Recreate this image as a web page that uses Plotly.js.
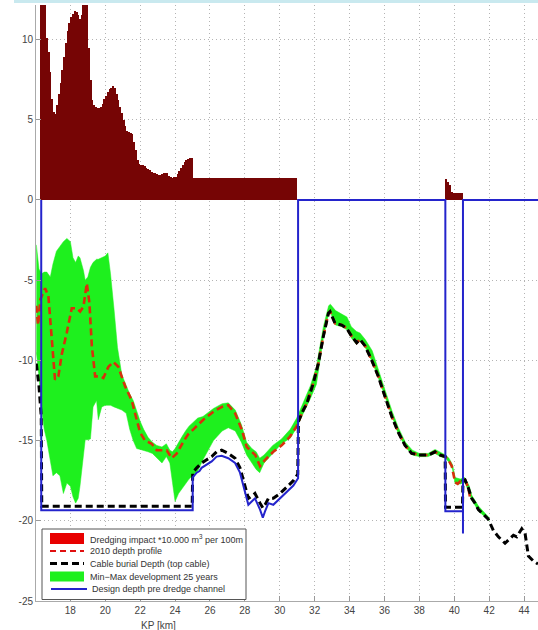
<!DOCTYPE html>
<html><head><meta charset="utf-8">
<script src="https://cdn.plot.ly/plotly-3.0.1.min.js"></script>
<style>html,body{margin:0;padding:0;background:#fff;}#chart{width:538px;height:630px;}</style>
</head><body><div id="chart"></div>
<script>
// ---------- data ----------
// Dredging impact bars, 100 m wide, first bar centre and step in km
const dredgeStartKm = 16.35;
const dredgeStepKm = 0.1;
const dredgeMain = [13,13,13,10.1,9.2,8.0,6.3,5.5,5.35,5.9,
 6.6,7.3,8.1,8.9,9.8,10.5,11.0,11.4,11.6,11.8,
 11.7,11.5,11.3,11.5,13,13,13,9.5,7.5,6.2,
 5.9,5.8,5.7,5.7,5.8,6.0,6.3,6.5,6.7,6.9,
 7.0,7.1,7.0,6.6,6.2,5.8,5.4,5.0,4.6,4.3,
 4.25,4.2,4.1,3.6,3.1,2.5,2.25,2.2,2.2,2.1,
 2.0,1.95,1.85,1.75,1.7,1.65,1.6,1.55,1.55,1.6,
 1.65,1.7,1.65,1.5,1.4,1.35,1.4,1.45,1.6,1.8,
 2.0,2.2,2.35,2.5,2.55,2.6,2.6,
 1.35,1.35,1.35,1.35,1.35,1.35,1.35,1.35,1.35,1.35,
 1.35,1.35,1.35,1.35,1.35,1.35,1.35,1.35,1.35,1.35,
 1.35,1.35,1.35,1.35,1.35,1.35,1.35,1.35,1.35,1.35,
 1.35,1.35,1.35,1.35,1.35,1.35,1.35,1.35,1.35,1.35,
 1.35,1.35,1.35,1.35,1.35,1.35,1.35,1.35,1.35,1.35,
 1.35,1.35,1.35,1.35,1.35,1.35,1.35,1.35,1.35,1.35];
const dredgeEastStartKm = 39.55;
const dredgeEast = [1.3,1.1,0.9,0.5,0.45,0.45,0.45,0.45,0.45,0.45];

// Min-Max development 25 years (band)
const bandKm = [16.05,16.20,16.35,16.50,16.65,16.85,17.00,17.20,17.40,17.60,17.80,18.00,18.15,18.30,18.45,18.55,18.75,18.85,19.00,19.15,19.30,19.50,19.60,19.80,20.00,20.15,20.30,20.50,20.70,20.95,21.20,21.40,21.60,21.80,22.00,22.20,22.45,22.70,22.95,23.25,23.50,23.70,23.85,24.00,24.20,24.40,24.60,24.80,25.00,25.30,25.60,26.20,26.70,27.05,27.45,27.80,28.10,28.40,28.65,28.85,29.10,29.60,30.10,30.60,30.97,31.35,31.75,32.10,32.50,32.80,32.90,33.20,33.55,33.85,34.10,34.40,34.60,34.90,35.30,35.65,36.05,36.45,36.80,37.20,37.60,38.00,38.50,38.90,39.20,39.50,39.70,39.90,40.05,40.35,40.60,40.85,41.00,41.40,41.70,42.00];
const bandMax = [-2.8,-4.3,-4.6,-4.5,-4.5,-4.8,-4.0,-3.2,-2.9,-2.6,-2.4,-2.6,-3.6,-3.9,-3.5,-3.6,-4.4,-5.0,-4.8,-4.2,-3.9,-3.7,-3.7,-3.6,-3.5,-3.3,-4.6,-6.8,-9.2,-10.9,-11.6,-12.1,-12.5,-13.2,-13.8,-14.3,-14.8,-15.1,-15.3,-15.4,-15.2,-15.6,-15.7,-15.5,-15.1,-14.75,-14.4,-14.1,-13.9,-13.6,-13.5,-13.0,-12.7,-12.65,-13.1,-14.0,-15.1,-15.5,-15.7,-16.1,-15.9,-15.3,-14.9,-14.3,-13.6,-12.6,-11.6,-10.4,-7.9,-6.6,-6.5,-6.9,-7.1,-7.3,-7.9,-8.2,-8.3,-8.7,-9.4,-10.5,-11.9,-13.2,-14.2,-15.1,-15.6,-15.8,-15.8,-15.55,-15.75,-15.9,-16.1,-16.5,-17.3,-17.4,-17.3,-17.8,-18.4,-19.1,-19.45,-19.8];
const bandMin = [-9.5,-11.0,-13.0,-14.3,-15.0,-16.2,-17.2,-17.0,-17.2,-18.3,-17.65,-17.85,-18.5,-18.9,-18.6,-17.85,-16.0,-14.95,-14.95,-14.9,-12.9,-12.5,-13.7,-12.9,-12.8,-12.8,-12.8,-12.9,-13.0,-13.1,-13.3,-14.3,-15.0,-15.5,-15.55,-15.6,-15.7,-15.8,-16.1,-16.4,-16.0,-16.4,-17.6,-18.8,-18.3,-18.0,-17.7,-17.4,-17.2,-16.9,-16.2,-15.0,-14.4,-14.2,-14.4,-15.1,-15.9,-16.4,-16.8,-17.0,-16.4,-15.8,-15.2,-14.85,-14.2,-13.3,-12.4,-11.5,-8.6,-7.1,-7.0,-7.8,-7.9,-8.1,-8.6,-9.0,-8.8,-9.2,-10.1,-11.1,-12.35,-13.6,-14.6,-15.4,-15.9,-16.0,-16.0,-15.8,-16.0,-16.1,-16.35,-16.8,-17.7,-17.7,-17.6,-18.2,-18.7,-19.4,-19.7,-20.0];

// 2010 depth profile
const profileKm = [16.05,16.15,16.28,16.55,16.74,16.93,17.12,17.31,17.51,17.79,18.08,18.37,18.56,18.75,18.94,19.09,19.23,19.42,19.70,19.89,20.18,20.46,20.75,21.13,21.52,21.80,22.00,22.28,22.66,22.95,23.24,23.52,23.81,24.10,24.48,24.76,25.05,25.62,26.20,26.68,27.05,27.44,27.82,28.11,28.40,28.60,28.87,29.16,29.63,30.11,30.59,30.97,31.35,31.55,31.93,32.21,32.50,32.79,32.88,33.17,33.55,33.84,34.12,34.41,34.60,34.89,35.27,35.65,36.03,36.42,36.80,37.18,37.56,38.04,38.52,38.90,39.19,39.48,39.66,39.86,40.05,40.20,40.33,40.62,40.81,40.90];
const profileDepth = [-6.6,-7.8,-6.2,-5.5,-6.0,-8.5,-11.2,-11.0,-9.6,-8.3,-6.75,-6.75,-6.95,-6.65,-5.2,-6.4,-9.1,-11.0,-11.0,-11.1,-10.4,-10.1,-10.4,-11.6,-12.5,-13.7,-14.5,-15.0,-15.2,-15.6,-15.6,-15.6,-16.1,-15.8,-15.06,-14.6,-14.3,-13.7,-13.2,-12.9,-12.8,-13.3,-14.3,-15.4,-15.7,-15.9,-16.6,-16.2,-15.7,-15.3,-14.75,-14.1,-13.1,-12.7,-11.4,-10.2,-8.5,-7.06,-6.96,-7.7,-7.8,-8.0,-8.5,-8.9,-8.7,-9.1,-10.0,-11.0,-12.25,-13.5,-14.5,-15.3,-15.8,-15.9,-15.9,-15.7,-15.9,-16.0,-16.2,-16.6,-17.6,-17.7,-17.55,-17.45,-17.96,-18.5];

// Cable burial depth (top cable)
const cableKm = [16.05,16.20,16.33,16.36,24.98,25.01,25.24,25.52,25.81,26.10,26.38,26.67,27.05,27.44,27.72,28.01,28.20,28.48,28.58,28.87,29.03,29.16,29.35,29.63,30.01,30.40,30.78,31.03,31.07,31.35,31.55,31.93,32.21,32.50,32.79,32.88,33.17,33.55,33.84,34.12,34.41,34.60,34.89,35.27,35.65,36.03,36.42,36.80,37.18,37.56,38.04,38.52,38.90,39.19,39.48,39.50,40.47,40.50,40.62,40.81,41.00,41.19,41.38,41.67,41.95,42.24,42.53,42.91,43.20,43.39,43.58,43.87,44.06,44.15,44.25,44.53,44.80];
const cableDepth = [-10.2,-11.6,-13.5,-19.1,-19.1,-17.0,-16.7,-16.4,-16.2,-16.0,-15.7,-15.6,-15.8,-16.1,-16.7,-17.9,-18.6,-18.4,-18.3,-18.9,-19.2,-19.0,-18.6,-18.6,-18.3,-17.9,-17.5,-17.1,-13.8,-13.1,-12.7,-11.4,-10.2,-8.5,-7.06,-6.96,-7.7,-7.8,-8.0,-8.5,-8.9,-8.7,-9.1,-10.0,-11.0,-12.25,-13.5,-14.5,-15.3,-15.8,-15.9,-15.9,-15.7,-15.9,-16.0,-19.15,-19.15,-17.5,-17.45,-17.96,-18.6,-18.9,-19.3,-19.6,-19.9,-20.6,-21.0,-21.4,-21.1,-20.9,-21.0,-20.5,-20.8,-21.6,-22.2,-22.5,-22.7];

// Design depth pre dredge channel
const designKm = [16.33,16.33,25.01,25.01,25.24,25.40,25.52,25.81,26.10,26.38,26.67,27.05,27.44,27.72,28.01,28.20,28.48,28.58,28.87,29.03,29.16,29.35,29.63,30.01,30.40,30.78,31.05,31.05,39.49,39.49,40.50,40.50,40.50,44.80];
const designDepth = [0,-19.35,-19.35,-17.3,-17.0,-16.9,-16.7,-16.5,-16.3,-16.0,-15.95,-16.1,-16.4,-17.0,-18.3,-19.0,-18.7,-18.6,-19.3,-19.8,-19.4,-18.9,-19.0,-18.6,-18.2,-17.8,-17.35,0,0,-19.4,-19.4,-20.8,0,0];

// Ticks and labels
const kmTicks = [18,20,22,24,26,28,30,32,34,36,38,40,42,44];
const kmTickLabels = ['18','20','22','24','26','28','30','32','34','36','38','40','42','44'];
const depthTicks = [-25,-20,-15,-10,-5,0,5,10];
const depthTickLabels = ['-25','-20','-15','-10','-5','0','5','10'];
const seriesNames = ['Dredging impact *10.000 m<sup>3</sup> per 100m','2010 depth profile','Cable burial Depth (top cable)','Min\u2212Max development 25 years','Design depth pre dredge channel'];
const xTitle = 'KP [km]';

// ---------- traces ----------
const barStyle = {color:'#760505', line:{width:0}};
const traces = [
  {type:'bar', name:seriesNames[0], x0:dredgeStartKm, dx:dredgeStepKm, y:dredgeMain, width:dredgeStepKm*1.25, marker:barStyle},
  {type:'bar', name:seriesNames[0], x0:dredgeEastStartKm, dx:dredgeStepKm, y:dredgeEast, width:dredgeStepKm*1.25, marker:barStyle},
  {type:'scatter', mode:'lines', name:seriesNames[3]+' min', x:bandKm, y:bandMin, line:{color:'#1ef01e', width:0.5}},
  {type:'scatter', mode:'lines', name:seriesNames[3], x:bandKm, y:bandMax, fill:'tonexty', fillcolor:'#1ef01e', line:{color:'#1ef01e', width:0.5}},
  {type:'scatter', mode:'lines', name:seriesNames[1], x:profileKm, y:profileDepth, line:{color:'#d8300c', width:2.6, dash:'7px,4px'}},
  {type:'scatter', mode:'lines', name:seriesNames[2], x:cableKm, y:cableDepth, line:{color:'#000000', width:3, dash:'7px,4px'}},
  {type:'scatter', mode:'lines', name:seriesNames[4], x:designKm, y:designDepth, line:{color:'#2424cc', width:2}}
];

// ---------- custom legend (compact, like the reference) ----------
const L = 36, T = 5, PW = 502, PH = 596;
const px = v => (v - L) / PW;
const py = v => (T + PH - v) / PH;
const rowY = [538.5, 551, 563.5, 576.5, 589];
const shapes = [
  {type:'rect', xref:'paper', yref:'paper', x0:px(14), x1:1, y0:py(0), y1:py(3), line:{width:0}, fillcolor:'#c9e9ef'},
  {type:'rect', xref:'paper', yref:'paper', x0:px(42), x1:px(246), y0:py(599.5), y1:py(529), line:{color:'#555', width:1}, fillcolor:'#ffffff'},
  {type:'rect', xref:'paper', yref:'paper', x0:px(50), x1:px(84), y0:py(rowY[0]+5.5), y1:py(rowY[0]-5.5), line:{width:0}, fillcolor:'#e80000'},
  {type:'line', xref:'paper', yref:'paper', x0:px(50), x1:px(84), y0:py(rowY[1]), y1:py(rowY[1]), line:{color:'#e01010', width:2.2, dash:'6px,4px'}},
  {type:'line', xref:'paper', yref:'paper', x0:px(50), x1:px(84), y0:py(rowY[2]), y1:py(rowY[2]), line:{color:'#000', width:2.8, dash:'7px,4px'}},
  {type:'rect', xref:'paper', yref:'paper', x0:px(50), x1:px(84), y0:py(rowY[3]+5), y1:py(rowY[3]-5), line:{width:0}, fillcolor:'#1ef01e'},
  {type:'line', xref:'paper', yref:'paper', x0:px(51), x1:px(87), y0:py(rowY[4]), y1:py(rowY[4]), line:{color:'#2424cc', width:2}}
];
const legendOrder = [0,1,2,3,4];
const annotations = legendOrder.map((k,i) => ({
  xref:'paper', yref:'paper', x:px(i===4?90:88), y:py(rowY[i]), xanchor:'left', yanchor:'middle',
  text:seriesNames[k], showarrow:false, font:{size:9, color:'#333'}
}));
annotations.push({xref:'paper', yref:'paper', x:px(158), y:py(625), xanchor:'center', yanchor:'middle',
  text:xTitle, showarrow:false, font:{size:10, color:'#444'}});

const axisCommon = {ticks:'inside', ticklen:5, tickcolor:'#999', showgrid:true, gridcolor:'#b4b4b4', griddash:'1px,3px', gridwidth:1,
  showline:true, linecolor:'#aaaaaa', linewidth:1, zeroline:false, tickfont:{size:10, color:'#444'}, fixedrange:true};

const layout = {
  width:538, height:630,
  margin:{l:L, r:0, t:T, b:630-T-PH, pad:0},
  paper_bgcolor:'#ffffff', plot_bgcolor:'#ffffff',
  showlegend:false, barmode:'overlay', bargap:0,
  font:{family:'Liberation Sans, Arial, sans-serif', size:10, color:'#444'},
  xaxis:Object.assign({range:[16.03,44.8], tickmode:'array', tickvals:kmTicks, ticktext:kmTickLabels}, axisCommon),
  yaxis:Object.assign({range:[-25,12.15], tickmode:'array', tickvals:depthTicks, ticktext:depthTickLabels}, axisCommon),
  shapes:shapes, annotations:annotations
};

Plotly.newPlot('chart', traces, layout, {displayModeBar:false, staticPlot:true});
</script></body></html>
